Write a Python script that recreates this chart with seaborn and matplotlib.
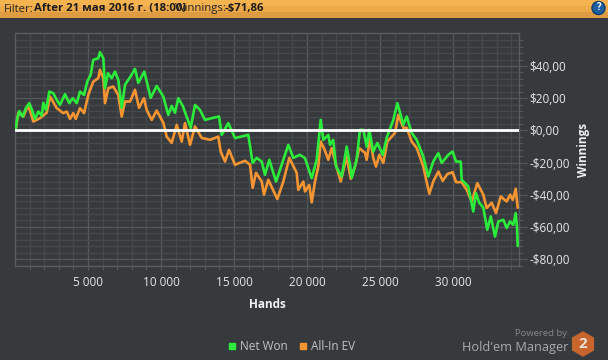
import matplotlib
matplotlib.use('Agg')
import matplotlib.pyplot as plt
import seaborn as sns
import pandas as pd
import numpy as np
from matplotlib.lines import Line2D
from matplotlib.patches import Circle, RegularPolygon

# values
net_hands = [70, 120, 295, 530, 750, 980, 1165, 1370, 1600, 1830, 1940, 2120, 2350, 2620, 2860, 3080, 3425, 3720,
             3950, 4230, 4450, 4730, 4950, 5185, 5360, 5705, 5820, 6050, 6165, 6370, 6620, 6850, 7075, 7310, 7535,
             7880, 8220, 8445, 8855, 9110, 9295, 9705, 10160, 10500, 10735, 10960, 11185, 11490, 12035, 12330,
             12670, 13015, 13585, 13975, 14160, 14610, 15070, 15980, 16280, 16555, 16900, 17125, 17420, 17880,
             18270, 18720, 19065, 19520, 19865, 20325, 20665, 20940, 21120, 21460, 21580, 21800, 21990, 22380,
             22720, 22950, 23065, 23400, 23630, 23860, 24090, 24270, 24540, 24820, 25190, 25460, 25915, 26190,
             26420, 26600, 26830, 27175, 27515, 27970, 28310, 28650, 29000, 29230, 29680, 29980, 30210, 30530,
             30600, 31050, 31390, 31580, 31800, 32080, 32350, 32590, 32880, 33110, 33450, 33680, 33910, 34130,
             34300, 34390, 34435]
net_won = [1.6, 5.9, 12.1, 8.6, 14, 16.9, 12.7, 7.1, 11.7, 9.2, 17.1, 12.7, 24.1, 23.1, 18.9, 15.8, 22.5, 16.9,
           20, 16.9, 24.1, 22, 30.3, 34.5, 43.8, 44.8, 48.6, 44.8, 26.2, 35.5, 32.4, 36.5, 31.4, 14, 28.3,
           33, 38.2, 29.5, 36.5, 27.2, 20.2, 27.6, 21, 9.6, 15.2, 10.9, 20, 15.2, 1.6, 15.8,
           12.7, 6.5, 7.8, 8.6, -2.8, 4.5, -4.8, -2.8, -20.2, -17.1, -19.4, -27.6, -18.3, -31.8,
           -21.4, -9, -17.1, -15.2, -17.3, -29.7, -18.3, 6.5, -5.9, -2.8, -9, -5.9, -22.5, -28.7,
           -10.1, -21.4, -29.5, -18.3, 0.3, 0.3, -10.1, 0.3, -13.2, -7.8, -15.2, -4.7, 6.5, 16.9,
           9.6, 3.4, 8.6, -1.6, -5.9, -16.3, -28.7, -19.4, -14.2, -20.2, -15.2, -13.2, -19.4, -19.4,
           -30.7, -34.9, -50.4, -39, -45, -48.1, -61.8, -53.5, -66, -56.6, -55.6, -60.7, -56.6, -58.7,
           -51.4, -60.6, -71.86]

ev_hands = [70, 225, 570, 910, 1255, 1710, 2170, 2400, 2860, 3310, 3540, 3770, 3990, 4160, 4450, 4730, 5020, 5360,
            5705, 5820, 6050, 6165, 6390, 6730, 7075, 7310, 7535, 7880, 8220, 8495, 8835, 9020, 9365, 9705, 10160,
            10390, 10735, 11075, 11420, 11645, 11990, 12330, 12790, 13360, 13925, 14090, 14385, 14660, 15070,
            15755, 16100, 16280, 16510, 16900, 17055, 17350, 17970, 18380, 18790, 19295, 19405, 19750, 19865,
            20160, 20325, 20550, 20775, 20940, 21170, 21460, 21690, 21990, 22310, 22720, 23000, 23290, 23585,
            23975, 24090, 24320, 24540, 24730, 24955, 25230, 25500, 26030, 26255, 26600, 26830, 27175, 27515,
            27970, 28380, 28650, 29000, 29300, 29610, 29980, 30210, 30600, 30940, 31285, 31670, 32080, 32310,
            32655, 32950, 33270, 33680, 33910, 34095, 34300, 34435]
all_in_ev = [1.6, 10.9, 8.6, 15.8, 5.5, 7.6, 10.9, 21, 13.8, 10.7, 11.7, 7.1, 10.7, 7.1, 13.8, 10.7, 22, 30.3,
             32.4, 37.6, 32.4, 16.9, 26.2, 27.2, 22, 8.6, 17.9, 17.9, 25.2, 14, 20, 12.7, 6.5, 12.3, 4.7,
             -3.9, -7.8, 3.4, -7, 4.5, -9, 2.4, -4.7, -5.9, -3.9, -13.2, -19.4, -12.1, -21.4,
             -18.9, -21.4, -35.7, -26.4, -31.8, -40, -30.7, -42.7, -31.8, -17.1, -26.4, -37, -31.8, -38,
             -33.9, -44.8, -31.8, -22.5, -7, -11.1, -18.3, -11.1, -21.4, -31.8, -16.3, -30.1, -22.5, -11.1,
             -14, -18.3, -4.7, -17.1, -22.5, -15.2, -20.2, -7, -1.6, 9.6, 1.6, 1.6, -7, -10.9,
             -22.5, -39.4, -31.8, -25.6, -31.4, -27.2, -26, -32.2, -32.2, -37, -44.2, -32.8, -40, -48.3,
             -45, -51.4, -41.1, -44.2, -40, -43.2, -36.3, -48.1]

x_ticks = [5000, 10000, 15000, 20000, 25000, 30000]
x_labels = ['5 000', '10 000', '15 000', '20 000', '25 000', '30 000']
y_ticks = [40, 20, 0, -20, -40, -60, -80]
y_labels = ['$40,00', '$20,00', '$0,00', '-$20,00', '-$40,00', '-$60,00', '-$80,00']

BG = '#373a3d'
GREEN = '#2bec3a'
ORANGE = '#f59532'
W, H = 608, 360

sns.set_theme(style='dark')
plt.rcParams['font.family'] = ['Open Sans', 'DejaVu Sans']

df = pd.concat([
    pd.DataFrame({'hands': ev_hands, 'value': all_in_ev, 'series': 'All-In EV'}),
    pd.DataFrame({'hands': net_hands, 'value': net_won, 'series': 'Net Won'}),
])

fig = plt.figure(figsize=(W / 100, H / 100), dpi=100, facecolor=BG)

# header band
top = fig.add_axes([0, 1 - 18 / H, 1, 18 / H])
top.imshow(np.array([[0.0], [0.6], [1.0]]), aspect='auto', cmap=matplotlib.colors.LinearSegmentedColormap.from_list(
    'hdr', ['#f6b450', '#f3ae4a', '#dd9c42']))
top.axis('off')

ax = fig.add_axes([15 / W, 1 - 266 / H, 503.5 / W, 233 / H], facecolor=BG)
sns.lineplot(data=df, x='hands', y='value', hue='series', hue_order=['All-In EV', 'Net Won'],
             palette={'All-In EV': ORANGE, 'Net Won': GREEN}, estimator=None, sort=False,
             linewidth=1.9, legend=False, ax=ax, zorder=3)
ax.axhline(0, color='white', lw=2, zorder=4)

ax.set_xlim(0, 34490)
ax.set_ylim(-84.3, 60.5)
ax.set_xticks(x_ticks, x_labels)
ax.set_yticks(y_ticks, y_labels)
ax.set_xticks(np.arange(1000, 34001, 1000), minor=True)
ax.set_yticks(np.arange(-84, 60, 4), minor=True)
ax.yaxis.tick_right()
ax.grid(True, which='major', color='#55585b', lw=1, zorder=1)
ax.grid(True, which='minor', color='#46494c', lw=1, zorder=1)
ax.set_axisbelow(True)
ax.tick_params(axis='x', which='both', length=3, width=0.8, color='#55585b', labelsize=8.5,
               labelcolor='#e6e6e6', pad=4, bottom=True)
ax.tick_params(axis='y', which='major', length=5.8, width=0.8, color='#55585b', labelsize=8.5,
               labelcolor='#e6e6e6', pad=2, right=True)
ax.tick_params(axis='y', which='minor', length=3, width=0.8, color='#55585b', right=True)
for s in ax.spines.values():
    s.set_color('#5a5d60')
    s.set_linewidth(1)
ax.set_xlabel('')
ax.set_ylabel('')


def px_text(x, y, s, **kw):
    return fig.text(x / W, 1 - y / H, s, va='center', **kw)


px_text(4, 9, 'Filter:', fontsize=8.2, color='#222222')
px_text(34, 9, 'After 21 мая 2016 г. (18:00)', fontsize=8.2, color='#1a1a1a', fontweight='bold')
px_text(175, 9, 'Winnings:', fontsize=8.2, color='#222222')
px_text(225, 9, '-$71,86', fontsize=8.2, color='#1a1a1a', fontweight='bold')

px_text(267, 304, 'Hands', fontsize=8.5, color='#f0f0f0', fontweight='bold', ha='center')
px_text(583, 150, 'Winnings', fontsize=8.5, color='#f0f0f0', fontweight='bold', ha='center', rotation=90)

handles = [Line2D([], [], ls='', marker='s', ms=4.5, color=GREEN, label='Net Won'),
           Line2D([], [], ls='', marker='s', ms=4.5, color=ORANGE, label='All-In EV')]
fig.legend(handles=handles, loc='center', bbox_to_anchor=(290 / W, 1 - 347 / H), ncol=2, frameon=False,
           fontsize=8.5, labelcolor='#c4c4c4', handletextpad=0.1, columnspacing=0.7, handlelength=1.2)

px_text(567, 334, 'Powered by', fontsize=6.8, color='#85888a', ha='right')
px_text(568, 347, "Hold'em Manager", fontsize=9.2, color='#a9abad', ha='right')

# overlay axes in pixel units for the logo and help icon
ov = fig.add_axes([0, 0, 1, 1], facecolor='none')
ov.set_xlim(0, W)
ov.set_ylim(H, 0)
ov.axis('off')
ov.add_patch(RegularPolygon((583, 344), 6, radius=12, color='#c8652c'))
ov.text(583, 344, '2', color='#e8e2da', fontsize=11, fontweight='bold', ha='center', va='center')
ov.add_patch(Circle((598.5, 8), 6.5, color='#1d5f9f', ec='#0e3c70'))
ov.text(598.5, 8, '?', color='white', fontsize=7, fontweight='bold', ha='center', va='center')

fig.savefig('out.png', dpi=100, facecolor=BG)
